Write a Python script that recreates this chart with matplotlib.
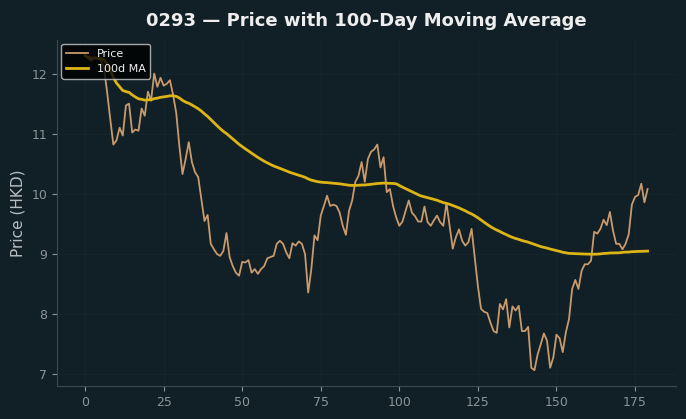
import numpy as np
import pandas as pd
import matplotlib
matplotlib.use('Agg')
import matplotlib.pyplot as plt

# ----------------------------------------------------------------------- #
# Data
ticker = '0293'
window = 100

price = [
    12.30, 12.25, 12.22, 12.27, 12.25, 12.22, 12.10, 11.70, 11.25, 10.82,
    10.89, 11.10, 10.97, 11.47, 11.50, 11.02, 11.07, 11.05, 11.42, 11.30,
    11.70, 11.55, 12.00, 11.78, 11.93, 11.80, 11.83, 11.89, 11.65, 11.35,
    10.80, 10.33, 10.58, 10.86, 10.53, 10.36, 10.28, 9.92, 9.55, 9.65,
    9.17, 9.08, 9.00, 8.97, 9.05, 9.35, 8.95, 8.80, 8.69, 8.64,
    8.87, 8.86, 8.90, 8.69, 8.75, 8.67, 8.75, 8.80, 8.93, 8.95,
    8.97, 9.17, 9.22, 9.17, 9.03, 8.93, 9.18, 9.14, 9.21, 9.17,
    9.00, 8.36, 8.75, 9.31, 9.23, 9.64, 9.80, 9.97, 9.80, 9.82,
    9.80, 9.69, 9.47, 9.32, 9.72, 9.89, 10.20, 10.30, 10.53, 10.20,
    10.58, 10.70, 10.74, 10.82, 10.44, 10.61, 10.03, 10.08, 9.80, 9.61,
    9.47, 9.54, 9.72, 9.89, 9.69, 9.63, 9.54, 9.54, 9.79, 9.53,
    9.47, 9.56, 9.64, 9.53, 9.47, 9.85, 9.47, 9.09, 9.28, 9.41,
    9.22, 9.14, 9.20, 9.42, 8.94, 8.47, 8.09, 8.04, 8.02, 7.86,
    7.72, 7.69, 8.17, 8.08, 8.25, 7.78, 8.13, 8.06, 8.14, 7.72,
    7.72, 7.79, 7.11, 7.07, 7.33, 7.50, 7.68, 7.56, 7.11, 7.28,
    7.66, 7.60, 7.37, 7.70, 7.92, 8.42, 8.57, 8.42, 8.72, 8.83,
    8.83, 8.89, 9.37, 9.34, 9.42, 9.57, 9.48, 9.70, 9.39, 9.17,
    9.17, 9.08, 9.17, 9.33, 9.82, 9.95, 9.98, 10.17, 9.86, 10.08,
]

df = pd.DataFrame({'Price': price})
df['MA'] = df['Price'].rolling(window, min_periods=1).mean()

# ----------------------------------------------------------------------- #
# Styling
bg = '#111f26'
grid_col = '#16252c'
spine_col = '#3b4a50'
text_col = '#8b9499'

fig, ax = plt.subplots(figsize=(6.86, 4.19), dpi=100)
fig.patch.set_facecolor(bg)
ax.set_facecolor(bg)
fig.subplots_adjust(left=0.083, right=0.985, bottom=0.079, top=0.905)

ax.plot(df.index, df['Price'], color='#c99a6b', lw=1.3, label='Price')
ax.plot(df.index, df['MA'], color='#dcb416', lw=2.0, label='{0}d MA'.format(window))

ax.grid(True, color=grid_col, lw=0.8)
ax.set_axisbelow(True)
for side in ['top', 'right']:
    ax.spines[side].set_visible(False)
for side in ['left', 'bottom']:
    ax.spines[side].set_color(spine_col)
ax.tick_params(colors=text_col, labelsize=9)
ax.tick_params(axis='both', color=text_col)

ax.set_ylabel('Price (HKD)', color='#b8bfc3', fontsize=11)
ax.set_title('{0} \u2014 Price with 100-Day Moving Average'.format(ticker),
             color='#eeeeee', fontsize=13, fontweight='bold', pad=10)

leg = ax.legend(loc='upper left', fontsize=8, facecolor='black',
                edgecolor='#cccccc', framealpha=0.8, borderaxespad=0.4)
for t in leg.get_texts():
    t.set_color('#eeeeee')

plt.savefig('out.png', dpi=100, facecolor=bg)
